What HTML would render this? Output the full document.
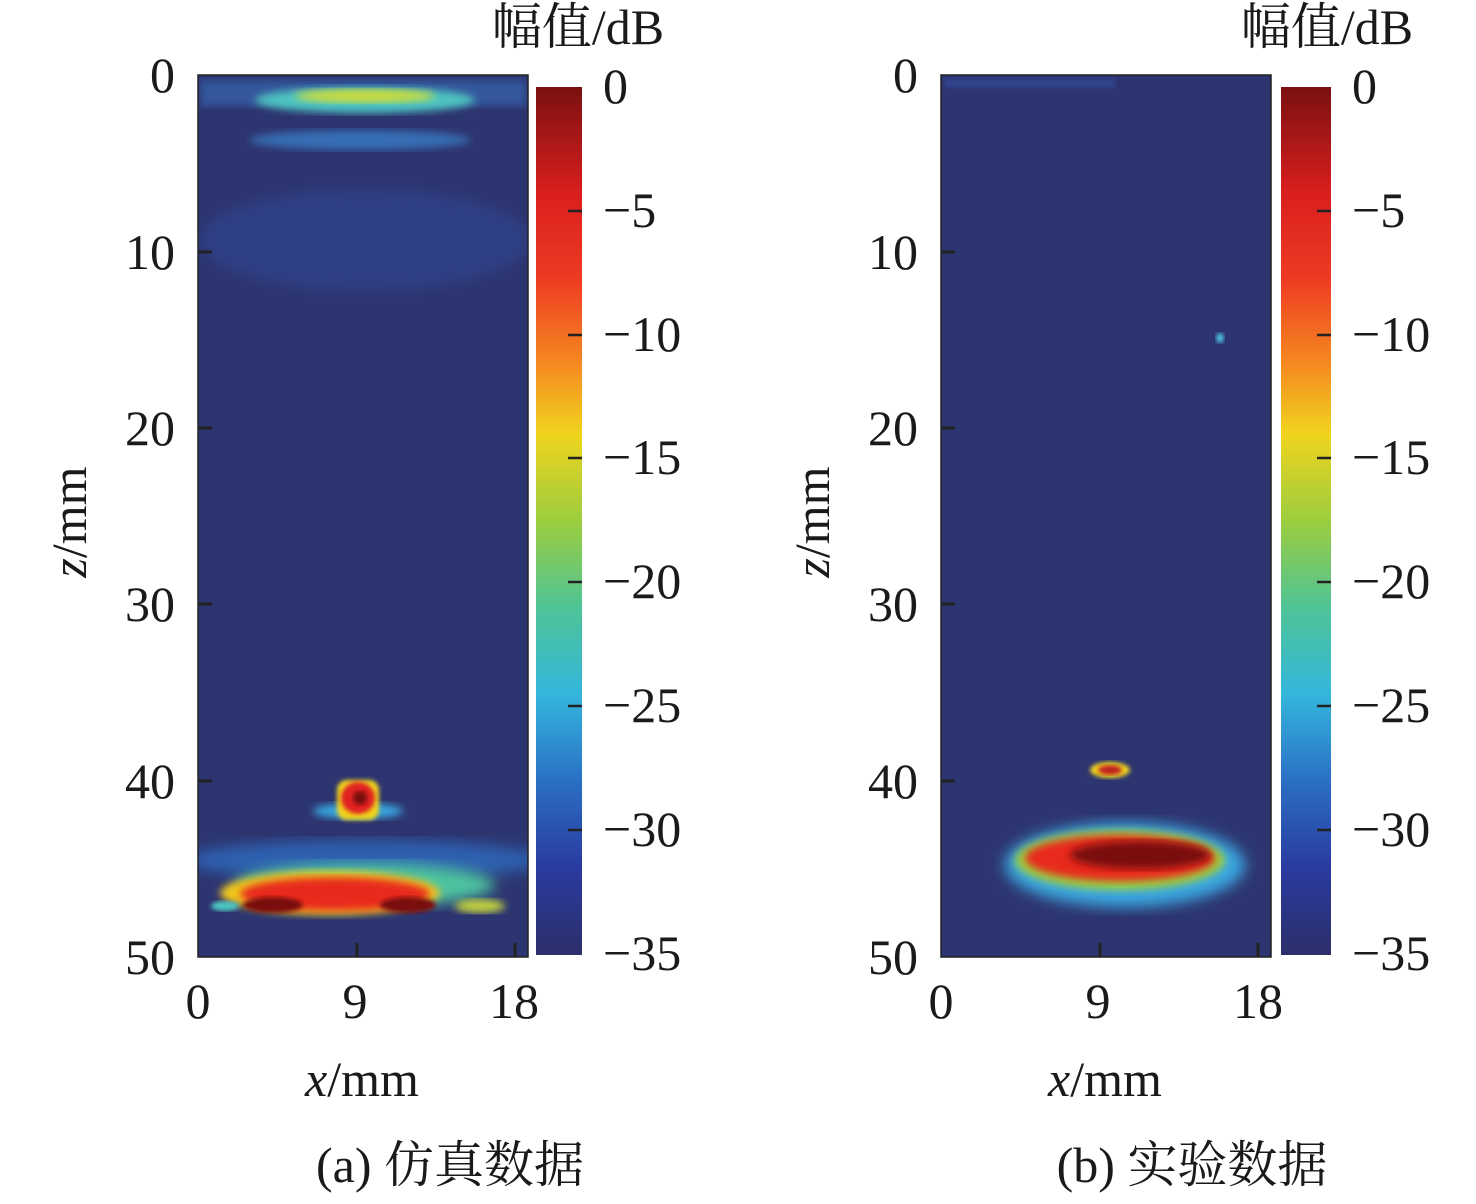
<!DOCTYPE html>
<html><head><meta charset="utf-8"><style>
body{margin:0;background:#fff;}
svg text{font-family:"Liberation Serif","Noto Serif CJK SC",serif;fill:#1a1a1a;}
</style></head><body>
<svg width="1476" height="1199" viewBox="0 0 1476 1199" xmlns="http://www.w3.org/2000/svg">
<defs>
<linearGradient id="jet" x1="0" y1="0" x2="0" y2="1">
<stop offset="0" stop-color="#7a1010"/>
<stop offset="0.12" stop-color="#d81e1e"/>
<stop offset="0.22" stop-color="#ee3a22"/>
<stop offset="0.32" stop-color="#f58a20"/>
<stop offset="0.40" stop-color="#f0d41e"/>
<stop offset="0.50" stop-color="#9ccd3e"/>
<stop offset="0.60" stop-color="#4ec496"/>
<stop offset="0.70" stop-color="#34b6dd"/>
<stop offset="0.80" stop-color="#2a6fc4"/>
<stop offset="0.90" stop-color="#2a3aa0"/>
<stop offset="1" stop-color="#2c2f6a"/>
</linearGradient>
<filter id="b4"><feGaussianBlur stdDeviation="4"/></filter>
<filter id="b2"><feGaussianBlur stdDeviation="2"/></filter>
<filter id="b8"><feGaussianBlur stdDeviation="7"/></filter>
<clipPath id="cA"><rect x="198" y="75" width="330" height="882"/></clipPath>
<clipPath id="cB"><rect x="941" y="75" width="330" height="882"/></clipPath>
</defs>

<rect x="198" y="75" width="330" height="882" fill="#2d3570"/>
<g clip-path="url(#cA)">
 <rect x="200" y="80" width="326" height="26" fill="#3a78c8" opacity="0.5" filter="url(#b4)"/>
 <ellipse cx="365" cy="100" rx="110" ry="13" fill="#4ec3c0" filter="url(#b4)"/>
 <ellipse cx="365" cy="96" rx="70" ry="7" fill="#c8dc40" filter="url(#b4)"/>
 <ellipse cx="360" cy="140" rx="110" ry="10" fill="#3a86d0" opacity="0.7" filter="url(#b4)"/>
 <ellipse cx="365" cy="240" rx="165" ry="50" fill="#3150a8" opacity="0.4" filter="url(#b8)"/>
 <ellipse cx="365" cy="860" rx="180" ry="20" fill="#2f6cc0" opacity="0.8" filter="url(#b8)"/>
 <ellipse cx="365" cy="885" rx="130" ry="22" fill="#4ec4a0" filter="url(#b8)"/>
 <ellipse cx="330" cy="893" rx="110" ry="22" fill="#f0c81e" filter="url(#b4)"/>
 <ellipse cx="335" cy="894" rx="95" ry="17" fill="#e82a1e" filter="url(#b4)"/>
 <ellipse cx="273" cy="905" rx="30" ry="8" fill="#7a1010" filter="url(#b2)"/>
 <ellipse cx="408" cy="905" rx="28" ry="8" fill="#7a1010" filter="url(#b2)"/>
 <ellipse cx="480" cy="906" rx="25" ry="7" fill="#c0d040" filter="url(#b4)"/>
 <ellipse cx="225" cy="906" rx="14" ry="5" fill="#4ec4c0" filter="url(#b2)"/>
 <ellipse cx="358" cy="811" rx="45" ry="8" fill="#38a8e0" filter="url(#b4)"/>
 <rect x="337" y="780" width="42" height="40" rx="10" fill="#f0d41e" filter="url(#b2)"/>
 <ellipse cx="358" cy="798" rx="17" ry="16" fill="#e02020" filter="url(#b2)"/>
 <ellipse cx="360" cy="798" rx="7" ry="7" fill="#7a1010" filter="url(#b2)"/>
</g>
<rect x="198" y="75" width="330" height="882" fill="none" stroke="#222" stroke-width="1.5"/>
<g stroke="#222" stroke-width="3">
 <line x1="198" y1="252" x2="212" y2="252"/><line x1="198" y1="428" x2="212" y2="428"/>
 <line x1="198" y1="604" x2="212" y2="604"/><line x1="198" y1="781" x2="212" y2="781"/>
 <line x1="357" y1="957" x2="357" y2="943"/><line x1="515" y1="957" x2="515" y2="943"/>
</g>
<rect x="536" y="87" width="46" height="868" fill="url(#jet)"/>
<g stroke="#222" stroke-width="2.5">
 <line x1="568" y1="211" x2="582" y2="211"/><line x1="568" y1="335" x2="582" y2="335"/>
 <line x1="568" y1="458" x2="582" y2="458"/><line x1="568" y1="582" x2="582" y2="582"/>
 <line x1="568" y1="706" x2="582" y2="706"/><line x1="568" y1="830" x2="582" y2="830"/>
</g>

<rect x="941" y="75" width="330" height="882" fill="#2d3570"/>
<g clip-path="url(#cB)">
 <rect x="945" y="78" width="170" height="10" fill="#3550a8" opacity="0.5" filter="url(#b2)"/>
 <ellipse cx="1220" cy="338" rx="4" ry="5" fill="#50c0e0" filter="url(#b2)"/>
 <ellipse cx="1125" cy="865" rx="120" ry="42" fill="#3aa8e0" filter="url(#b8)"/>
 <ellipse cx="1120" cy="860" rx="105" ry="30" fill="#9ccd3e" filter="url(#b4)"/>
 <ellipse cx="1120" cy="858" rx="95" ry="23" fill="#e82a1e" filter="url(#b4)"/>
 <ellipse cx="1140" cy="855" rx="70" ry="14" fill="#7a1010" filter="url(#b4)"/>
 <ellipse cx="1110" cy="770" rx="20" ry="8" fill="#f0d41e" filter="url(#b2)"/>
 <ellipse cx="1110" cy="770" rx="12" ry="5" fill="#c02020" filter="url(#b2)"/>
</g>
<rect x="941" y="75" width="330" height="882" fill="none" stroke="#222" stroke-width="1.5"/>
<g stroke="#222" stroke-width="3">
 <line x1="941" y1="252" x2="955" y2="252"/><line x1="941" y1="428" x2="955" y2="428"/>
 <line x1="941" y1="604" x2="955" y2="604"/><line x1="941" y1="781" x2="955" y2="781"/>
 <line x1="1100" y1="957" x2="1100" y2="943"/><line x1="1258" y1="957" x2="1258" y2="943"/>
</g>
<rect x="1281" y="87" width="50" height="868" fill="url(#jet)"/>
<g stroke="#222" stroke-width="2.5">
 <line x1="1317" y1="211" x2="1331" y2="211"/><line x1="1317" y1="335" x2="1331" y2="335"/>
 <line x1="1317" y1="458" x2="1331" y2="458"/><line x1="1317" y1="582" x2="1331" y2="582"/>
 <line x1="1317" y1="706" x2="1331" y2="706"/><line x1="1317" y1="830" x2="1331" y2="830"/>
</g>

<g font-size="50" text-anchor="end">
 <text x="175" y="92">0</text><text x="175" y="269">10</text><text x="175" y="445">20</text>
 <text x="175" y="621">30</text><text x="175" y="798">40</text><text x="175" y="974">50</text>
 <text x="918" y="92">0</text><text x="918" y="269">10</text><text x="918" y="445">20</text>
 <text x="918" y="621">30</text><text x="918" y="798">40</text><text x="918" y="974">50</text>
</g>
<g font-size="50" text-anchor="middle">
 <text x="198" y="1018">0</text><text x="355" y="1018">9</text><text x="514" y="1018">18</text>
 <text x="941" y="1018">0</text><text x="1098" y="1018">9</text><text x="1258" y="1018">18</text>
 <text x="362" y="1096"><tspan font-style="italic">x</tspan>/mm</text>
 <text x="1105" y="1096"><tspan font-style="italic">x</tspan>/mm</text>
 <text x="450" y="1182">(a) 仿真数据</text>
 <text x="1192" y="1182">(b) 实验数据</text>
 <text x="578" y="44">幅值/dB</text>
 <text x="1327" y="44">幅值/dB</text>
</g>
<g font-size="50" text-anchor="start">
 <text x="603" y="103">0</text><text x="603" y="227">−5</text><text x="603" y="351">−10</text>
 <text x="603" y="474">−15</text><text x="603" y="598">−20</text><text x="603" y="722">−25</text>
 <text x="603" y="846">−30</text><text x="603" y="970">−35</text>
 <text x="1352" y="103">0</text><text x="1352" y="227">−5</text><text x="1352" y="351">−10</text>
 <text x="1352" y="474">−15</text><text x="1352" y="598">−20</text><text x="1352" y="722">−25</text>
 <text x="1352" y="846">−30</text><text x="1352" y="970">−35</text>
</g>
<text font-size="50" text-anchor="middle" transform="translate(86,522) rotate(-90)"><tspan font-style="italic">z</tspan>/mm</text>
<text font-size="50" text-anchor="middle" transform="translate(829,522) rotate(-90)"><tspan font-style="italic">z</tspan>/mm</text>
</svg>
</body></html>
